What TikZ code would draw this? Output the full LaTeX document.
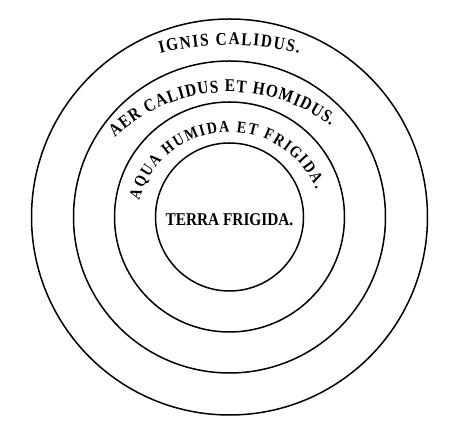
\documentclass[tikz,border=0pt]{standalone}
\usepackage{fontspec}
\setmainfont{Liberation Serif}
\newfontfamily\spherefont[FakeStretch=0.85]{Liberation Serif}
\usetikzlibrary{calc,decorations.text}
\begin{document}
\begin{tikzpicture}[x=1pt,y=1pt,
    ring/.style={line width=1.5pt},
    ringtext/.style={decorate,decoration={text along path,text align=fit to path,
        text={|\spherefont\bfseries\fontsize{#1}{#1}\selectfont|\ringlabel}}}]
  \useasboundingbox (0,0) rectangle (467,441);
  \coordinate (centre) at (229.5,224);

  % The four spheres
  \draw[ring] (centre) circle[radius=198];
  \draw[ring] (centre) circle[radius=156];
  \draw[ring] (centre) circle[radius=115];
  \draw[ring] (centre) circle[radius=74];

  % Fire
  \coordinate (ignis) at (229.5,109);
  \def\ringlabel{IGNIS CALIDUS.}
  \path[ringtext=18] ($(ignis)+(104:287)$) arc[start angle=104,end angle=76,radius=287];

  % Air
  \coordinate (aer) at (229.5,181);
  \def\ringlabel{AER CALIDUS ET HOMIDUS.}
  \path[ringtext=18] ($(aer)+(133:168)$) arc[start angle=133,end angle=53,radius=168];

  % Water
  \coordinate (aqua) at (229.5,215);
  \def\ringlabel{AQUA HUMIDA ET FRIGIDA.}
  \path[ringtext=16.5] ($(aqua)+(164:94)$) arc[start angle=164,end angle=23,radius=94];

  % Earth
  \node[inner sep=0pt,font=\spherefont\bfseries\fontsize{18}{18}\selectfont] (terra) at (229.5,221) {TERRA FRIGIDA.};
\end{tikzpicture}
\end{document}
